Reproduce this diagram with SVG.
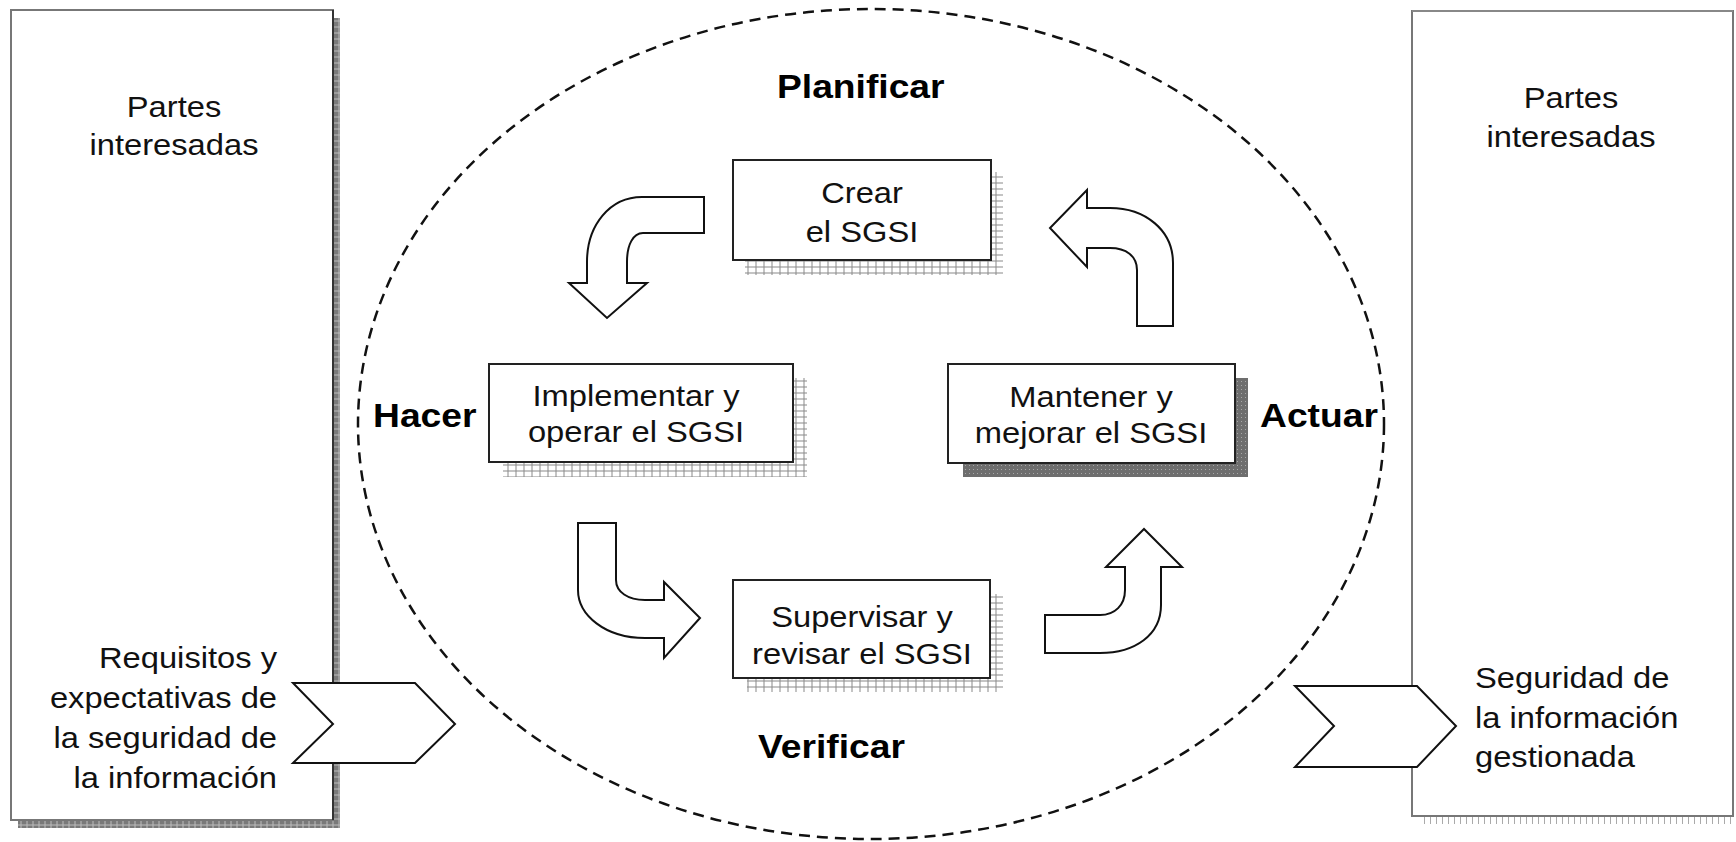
<svg xmlns="http://www.w3.org/2000/svg" width="1736" height="842" viewBox="0 0 1736 842">
<style>
.t{font-family:"Liberation Sans",Arial,sans-serif;font-size:30px;fill:#111}
.b{font-family:"Liberation Sans",Arial,sans-serif;font-size:34px;font-weight:bold;fill:#000}
.box{fill:#fff;stroke:#222;stroke-width:2}
.big{fill:#fff;stroke:#777;stroke-width:2}
.arr{fill:#fff;stroke:#111;stroke-width:2;stroke-linejoin:miter}
.m{text-anchor:middle}
.e{text-anchor:end}
</style>
<defs>
<pattern id="grid" width="8" height="6" patternUnits="userSpaceOnUse">
<rect width="8" height="6" fill="#fff"/>
<path d="M0 3H8M4 0V6" stroke="#8a8a8a" stroke-width="1"/>
</pattern>
<pattern id="dark" width="4" height="4" patternUnits="userSpaceOnUse">
<rect width="4" height="4" fill="#6e6e6e"/>
<rect x="1" y="1" width="1" height="1" fill="#a8a8a8"/>
</pattern>
<pattern id="edge" width="6" height="6" patternUnits="userSpaceOnUse">
<rect width="6" height="6" fill="#7a7a7a"/>
<path d="M0 3H6M3 0V6" stroke="#bdbdbd" stroke-width="1"/>
</pattern>
<pattern id="dots" width="6" height="4" patternUnits="userSpaceOnUse">
<rect width="6" height="4" fill="#fff"/>
<rect x="2" y="0" width="1" height="4" fill="#aaa"/>
</pattern>
</defs>
<rect width="1736" height="842" fill="#fff"/>

<g id="cycle">
<ellipse cx="871" cy="424" rx="513" ry="415" fill="none" stroke="#111" stroke-width="2.5" stroke-dasharray="11 7"/>
</g>

<g id="left-parties">
<rect x="333" y="18" width="7" height="810" fill="url(#edge)"/>
<rect x="18" y="820" width="322" height="8" fill="url(#edge)"/>
<rect class="big" x="11" y="10" width="322" height="810"/>
<line x1="333" y1="10" x2="333" y2="820" stroke="#333" stroke-width="2"/>
<text class="t m" transform="translate(174,117) scale(1.09,1)">Partes</text>
<text class="t m" transform="translate(174,155) scale(1.09,1)">interesadas</text>
<text class="t e" transform="translate(277,668) scale(1.09,1)">Requisitos y</text>
<text class="t e" transform="translate(277,708) scale(1.09,1)">expectativas de</text>
<text class="t e" transform="translate(277,748) scale(1.09,1)">la seguridad de</text>
<text class="t e" transform="translate(277,788) scale(1.09,1)">la información</text>
</g>

<g id="right-parties">
<rect x="1420" y="816" width="316" height="8" fill="url(#dots)"/>
<rect class="big" x="1412" y="11" width="321" height="805" stroke="#333"/>
<line x1="1412" y1="11" x2="1733" y2="11" stroke="#888" stroke-width="2"/>
<text class="t m" transform="translate(1571,108) scale(1.09,1)">Partes</text>
<text class="t m" transform="translate(1571,147) scale(1.09,1)">interesadas</text>
<text class="t" transform="translate(1475,688) scale(1.09,1)">Seguridad de</text>
<text class="t" transform="translate(1475,728) scale(1.09,1)">la información</text>
<text class="t" transform="translate(1475,767) scale(1.09,1)">gestionada</text>
</g>

<g id="label-planificar"><text class="b" transform="translate(777,98) scale(1.095,1)">Planificar</text></g>
<g id="label-hacer"><text class="b" transform="translate(373,427) scale(1.095,1)">Hacer</text></g>
<g id="label-actuar"><text class="b" transform="translate(1260,427) scale(1.095,1)">Actuar</text></g>
<g id="label-verificar"><text class="b" transform="translate(758,758) scale(1.095,1)">Verificar</text></g>

<g id="crear">
<rect x="745" y="172" width="258" height="103" fill="url(#grid)"/>
<rect class="box" x="733" y="160" width="258" height="100"/>
<text class="t m" transform="translate(862,203) scale(1.09,1)">Crear</text>
<text class="t m" transform="translate(862,242) scale(1.09,1)">el SGSI</text>
</g>

<g id="implementar">
<rect x="503" y="378" width="304" height="99" fill="url(#grid)"/>
<rect class="box" x="489" y="364" width="304" height="98"/>
<text class="t m" transform="translate(636,406) scale(1.09,1)">Implementar y</text>
<text class="t m" transform="translate(636,442) scale(1.09,1)">operar el SGSI</text>
</g>

<g id="mantener">
<rect x="963" y="378" width="285" height="99" fill="url(#dark)"/>
<rect class="box" x="948" y="364" width="287" height="99"/>
<text class="t m" transform="translate(1091,407) scale(1.09,1)">Mantener y</text>
<text class="t m" transform="translate(1091,443) scale(1.09,1)">mejorar el SGSI</text>
</g>

<g id="supervisar">
<rect x="747" y="594" width="256" height="98" fill="url(#grid)"/>
<rect class="box" x="733" y="580" width="257" height="98"/>
<text class="t m" transform="translate(862,627) scale(1.09,1)">Supervisar y</text>
<text class="t m" transform="translate(862,664) scale(1.09,1)">revisar el SGSI</text>
</g>

<g id="connectors">
<path class="arr" d="M704,197 L642,197 C610,197 587,225 587,262 L587,283 L569,283 L607,318 L647,283 L627,283 L627,262 C627,245 633,233 643,233 L704,233 Z"/>
<path class="arr" d="M1137,326 L1137,270 C1137,256 1126,248 1110,248 L1087,248 L1087,267 L1050,228 L1087,190 L1087,208 L1110,208 C1145,208 1173,230 1173,263 L1173,326 Z"/>
<path class="arr" d="M578,523 L616,523 L616,580 C616,592 628,600 645,600 L664,600 L664,582 L700,618 L664,658 L664,638 L645,638 C605,638 578,615 578,590 Z"/>
<path class="arr" d="M1045,615 L1100,615 C1115,615 1125,605 1125,590 L1125,567 L1106,567 L1144,529 L1182,567 L1161,567 L1161,605 C1161,635 1135,653 1100,653 L1045,653 Z"/>
<path class="arr" d="M293,683 L415,683 L455,724 L415,763 L293,763 L333,724 Z"/>
<path class="arr" d="M1295,686 L1417,686 L1456,726 L1417,767 L1295,767 L1334,726 Z"/>
</g>
</svg>
